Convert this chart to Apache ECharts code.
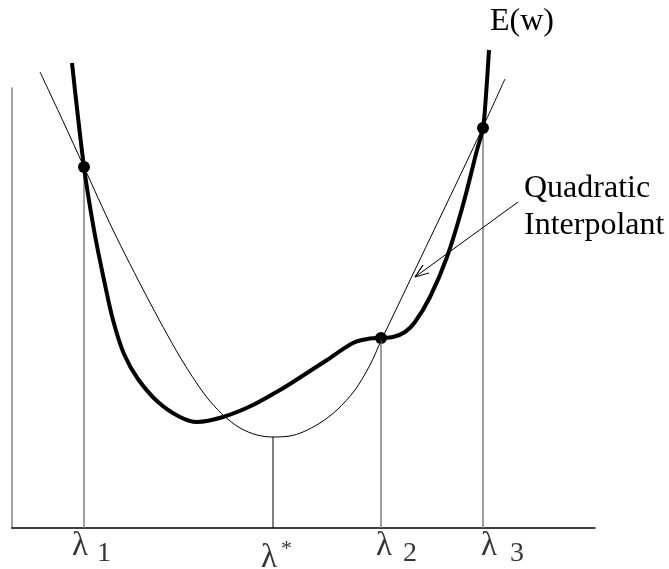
<!DOCTYPE html>
<html>
<head>
<meta charset="utf-8">
<script src="https://cdn.jsdelivr.net/npm/echarts@6/dist/echarts.min.js"></script>
<style>
    html, body { margin: 0; padding: 0; background: #fff; }
    #chart { width: 669px; height: 569px; }
</style>
</head>
<body>
<div id="chart"></div>
<script>
// values, in plot units (origin = corner of the axes)
const lambdaNames = ['1', '*', '2', '3'];
const lambdaX = [72, 261, 369, 471];
const lambdaTop = [361, 91, 190, 400];

// E(w), the thick curve
const errorCurve = [
    [60, 465], [72, 361], [82, 298], [92, 248], [101, 208], [112, 174],
    [126, 149], [146, 126], [168, 111], [185, 106], [211, 111], [241, 123],
    [268, 138], [281, 146], [315, 168], [341, 185], [358, 189.5], [369, 190],
    [381, 191], [393, 196], [403, 206], [418, 231], [435, 271], [451, 323],
    [465, 378], [471, 400], [474, 433], [477, 478]
];

// quadratic interpolant, the thin curve
const interpolant = [
    [28, 456], [50, 409], [72, 361], [101, 298], [135, 231], [168, 171],
    [193, 133], [211, 113], [228, 100], [245, 93], [261, 91], [278, 92],
    [291, 96], [308, 105], [325, 118], [343, 138], [358, 163], [369, 187],
    [391, 233], [401, 254], [435, 325], [465, 388], [471, 401], [493, 449]
];

const samplePoints = [[72, 361], [369, 190], [471, 400]];

// callout arrow: tail, tip, barb, tip, barb
const arrowPath = [[506, 326], [403, 251], [411, 263], [403, 251], [417, 255]];

const serif = '"Liberation Serif", "Times New Roman", serif';

const chart = echarts.init(document.getElementById('chart'));

const series = [];

// vertical guides under each lambda
lambdaX.forEach(function (x, i) {
    const isStar = lambdaNames[i] === '*';
    series.push({
        type: 'line',
        data: [[x, 0], [x, lambdaTop[i]]],
        symbol: 'none',
        silent: true,
        lineStyle: { color: isStar ? '#000' : '#7f7f7f', width: isStar ? 1 : 1.5 }
    });
});

series.push({
    name: 'Quadratic Interpolant',
    type: 'line',
    data: interpolant,
    symbol: 'none',
    smooth: 0.3,
    clip: false,
    lineStyle: { color: '#000', width: 1 }
});

series.push({
    name: 'E(w)',
    type: 'line',
    data: errorCurve,
    symbol: 'none',
    smooth: 0.3,
    clip: false,
    lineStyle: { color: '#000', width: 4 }
});

series.push({
    type: 'scatter',
    data: samplePoints,
    symbolSize: 12,
    itemStyle: { color: '#000', opacity: 1 }
});

series.push({
    type: 'line',
    data: arrowPath,
    symbol: 'none',
    clip: false,
    lineStyle: { color: '#000', width: 1 }
});

// lambda glyphs and their sub/superscripts under the axis
const glyphOffset = [[-12, 2], [-12, 14], [-5, 2], [-2, 2]];
const indexOffset = [[13, 12], [8, 10], [22, 12], [27, 12]];

function labelLayer(text, offsets, size) {
    return {
        type: 'scatter',
        symbolSize: 0,
        silent: true,
        data: lambdaX.map(function (x, i) {
            const star = lambdaNames[i] === '*' && text === null;
            return {
                value: [x, 0],
                name: lambdaNames[i],
                label: {
                    offset: offsets[i],
                    fontSize: star ? 22 : size,
                    lineHeight: star ? 22 : size
                }
            };
        }),
        label: {
            show: true,
            position: 'bottom',
            distance: 0,
            align: 'left',
            verticalAlign: 'top',
            fontFamily: serif,
            color: '#000',
            formatter: function (p) { return text === null ? p.name : text; }
        }
    };
}

series.push(labelLayer('λ', glyphOffset, 33));
series.push(labelLayer(null, indexOffset, 28));

const option = {
    animation: false,
    title: [
        {
            text: 'E(w)',
            left: 490,
            top: 4,
            padding: 0,
            textStyle: { fontFamily: serif, fontSize: 32, fontWeight: 'normal', color: '#000', lineHeight: 36 }
        },
        {
            text: 'Quadratic\nInterpolant',
            left: 524,
            top: 170,
            padding: 0,
            textStyle: { fontFamily: serif, fontSize: 32, fontWeight: 'normal', color: '#000', lineHeight: 37 }
        }
    ],
    grid: { left: 12, right: 74, top: 88, bottom: 41 },
    xAxis: {
        type: 'value',
        min: 0,
        max: 583,
        axisLine: { lineStyle: { color: '#000', width: 1.5 } },
        axisTick: { show: false },
        axisLabel: { show: false },
        splitLine: { show: false }
    },
    yAxis: {
        type: 'value',
        min: 0,
        max: 440,
        axisLine: { show: true, lineStyle: { color: '#808080', width: 1.5 } },
        axisTick: { show: false },
        axisLabel: { show: false },
        splitLine: { show: false }
    },
    series: series
};

chart.setOption(option);
</script>
</body>
</html>
